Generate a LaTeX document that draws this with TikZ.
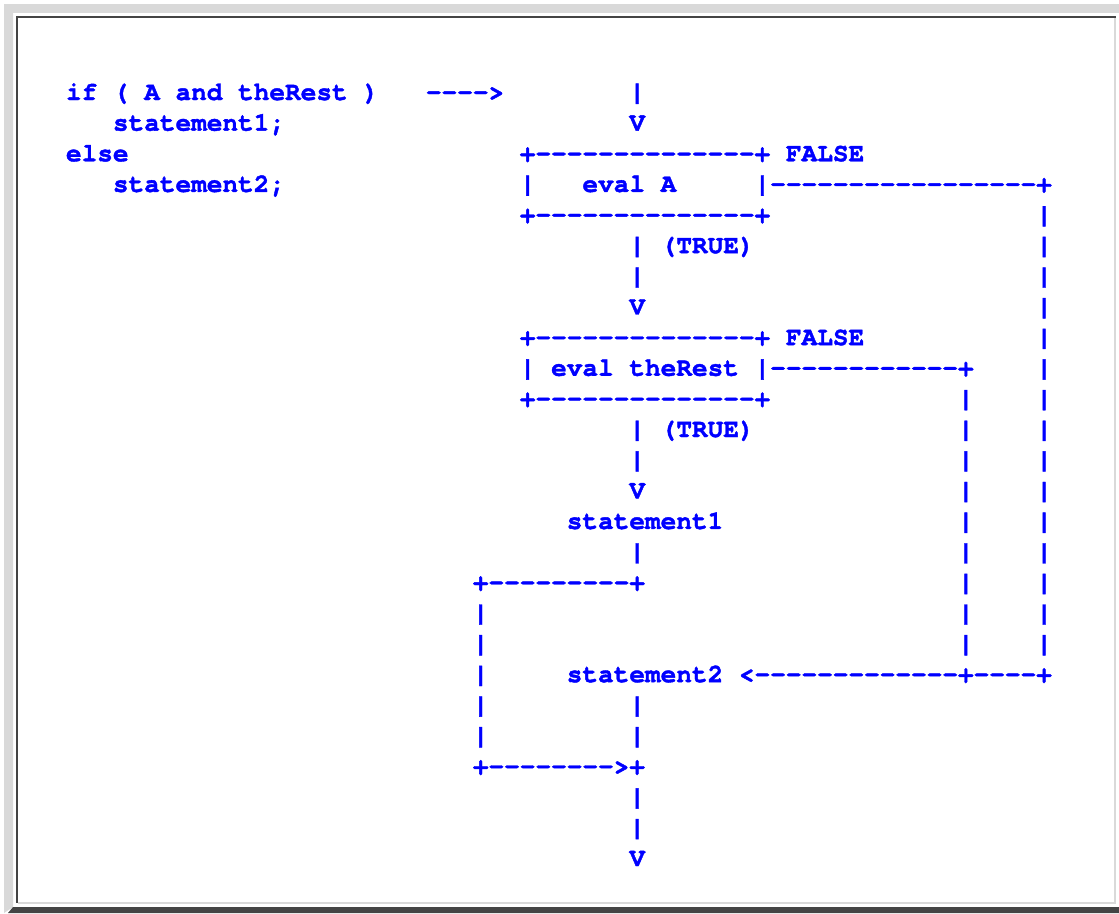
\documentclass[tikz,border=0pt]{standalone}
\usepackage{fontspec}
\setmonofont{TeX Gyre Cursor}[BoldFeatures={FakeBold=1.5}]
\definecolor{lightframe}{HTML}{D9D9D9}
\definecolor{darkframe}{HTML}{444444}
\definecolor{codeblue}{HTML}{0000FF}
\tikzset{
  txt/.style={anchor=base west, inner sep=0pt, outer sep=0pt, text=codeblue,
    font=\ttfamily\bfseries\fontsize{26.08pt}{30pt}\selectfont}
}
\begin{document}
\begin{tikzpicture}[x=1pt,y=-1pt]
\useasboundingbox (0,0) rectangle (1119,913);
% frame
\fill[white] (0,0) rectangle (1119,913);
\fill[lightframe] (4,4) rectangle (1119,13);
\fill[lightframe] (4,4) -- (13,4) -- (13,907) -- (4,913) -- cycle;
\fill[darkframe] (13,907) -- (1119,907) -- (1119,913) -- (8,913) -- cycle;
\fill[darkframe] (16,16) rectangle (1116,18);
\fill[darkframe] (16,16) rectangle (18,903);
\fill[lightframe] (1114,18) rectangle (1116,904);
\fill[lightframe] (18,902) rectangle (1116,904);
\begin{scope}[x=15.65pt, y=-30.64pt, shift={(66pt,-100pt)}]
% row 0
\node[txt] (r0a) at (0,0) {if};
\node[txt] (r0b) at (3,0) {(};
\node[txt] (r0c) at (5,0) {A};
\node[txt] (r0d) at (7,0) {and};
\node[txt] (r0e) at (11,0) {theRest};
\node[txt] (r0f) at (19,0) {)};
\node[txt] (r0g) at (23,0) {-{}-{}-{}->};
\node[txt] (r0h) at (36,0) {|};
% row 1
\node[txt] (r1a) at (3,1) {statement1;};
\node[txt] (r1b) at (36,1) {V};
% row 2
\node[txt] (r2a) at (0,2) {else};
\node[txt] (r2b) at (29,2) {+-{}-{}-{}-{}-{}-{}-{}-{}-{}-{}-{}-{}-{}-+};
\node[txt] (r2c) at (46,2) {FALSE};
% row 3
\node[txt] (r3a) at (3,3) {statement2;};
\node[txt] (r3b) at (29,3) {|};
\node[txt] (r3c) at (33,3) {eval};
\node[txt] (r3d) at (38,3) {A};
\node[txt] (r3e) at (44,3) {|-{}-{}-{}-{}-{}-{}-{}-{}-{}-{}-{}-{}-{}-{}-{}-{}-+};
% row 4
\node[txt] (r4a) at (29,4) {+-{}-{}-{}-{}-{}-{}-{}-{}-{}-{}-{}-{}-{}-+};
\node[txt] (r4b) at (62,4) {|};
% row 5
\node[txt] (r5a) at (36,5) {|};
\node[txt] (r5b) at (38,5) {(TRUE)};
\node[txt] (r5c) at (62,5) {|};
% row 6
\node[txt] (r6a) at (36,6) {|};
\node[txt] (r6b) at (62,6) {|};
% row 7
\node[txt] (r7a) at (36,7) {V};
\node[txt] (r7b) at (62,7) {|};
% row 8
\node[txt] (r8a) at (29,8) {+-{}-{}-{}-{}-{}-{}-{}-{}-{}-{}-{}-{}-{}-+};
\node[txt] (r8b) at (46,8) {FALSE};
\node[txt] (r8c) at (62,8) {|};
% row 9
\node[txt] (r9a) at (29,9) {|};
\node[txt] (r9b) at (31,9) {eval};
\node[txt] (r9c) at (36,9) {theRest};
\node[txt] (r9d) at (44,9) {|-{}-{}-{}-{}-{}-{}-{}-{}-{}-{}-{}-+};
\node[txt] (r9e) at (62,9) {|};
% row 10
\node[txt] (r10a) at (29,10) {+-{}-{}-{}-{}-{}-{}-{}-{}-{}-{}-{}-{}-{}-+};
\node[txt] (r10b) at (57,10) {|};
\node[txt] (r10c) at (62,10) {|};
% row 11
\node[txt] (r11a) at (36,11) {|};
\node[txt] (r11b) at (38,11) {(TRUE)};
\node[txt] (r11c) at (57,11) {|};
\node[txt] (r11d) at (62,11) {|};
% row 12
\node[txt] (r12a) at (36,12) {|};
\node[txt] (r12b) at (57,12) {|};
\node[txt] (r12c) at (62,12) {|};
% row 13
\node[txt] (r13a) at (36,13) {V};
\node[txt] (r13b) at (57,13) {|};
\node[txt] (r13c) at (62,13) {|};
% row 14
\node[txt] (r14a) at (32,14) {statement1};
\node[txt] (r14b) at (57,14) {|};
\node[txt] (r14c) at (62,14) {|};
% row 15
\node[txt] (r15a) at (36,15) {|};
\node[txt] (r15b) at (57,15) {|};
\node[txt] (r15c) at (62,15) {|};
% row 16
\node[txt] (r16a) at (26,16) {+-{}-{}-{}-{}-{}-{}-{}-{}-+};
\node[txt] (r16b) at (57,16) {|};
\node[txt] (r16c) at (62,16) {|};
% row 17
\node[txt] (r17a) at (26,17) {|};
\node[txt] (r17b) at (57,17) {|};
\node[txt] (r17c) at (62,17) {|};
% row 18
\node[txt] (r18a) at (26,18) {|};
\node[txt] (r18b) at (57,18) {|};
\node[txt] (r18c) at (62,18) {|};
% row 19
\node[txt] (r19a) at (26,19) {|};
\node[txt] (r19b) at (32,19) {statement2};
\node[txt] (r19c) at (43,19) {<-{}-{}-{}-{}-{}-{}-{}-{}-{}-{}-{}-{}-+-{}-{}-{}-+};
% row 20
\node[txt] (r20a) at (26,20) {|};
\node[txt] (r20b) at (36,20) {|};
% row 21
\node[txt] (r21a) at (26,21) {|};
\node[txt] (r21b) at (36,21) {|};
% row 22
\node[txt] (r22a) at (26,22) {+-{}-{}-{}-{}-{}-{}-{}->+};
% rows 23-25
\node[txt] (r23a) at (36,23) {|};
\node[txt] (r24a) at (36,24) {|};
\node[txt] (r25a) at (36,25) {V};
\end{scope}
\end{tikzpicture}
\end{document}
